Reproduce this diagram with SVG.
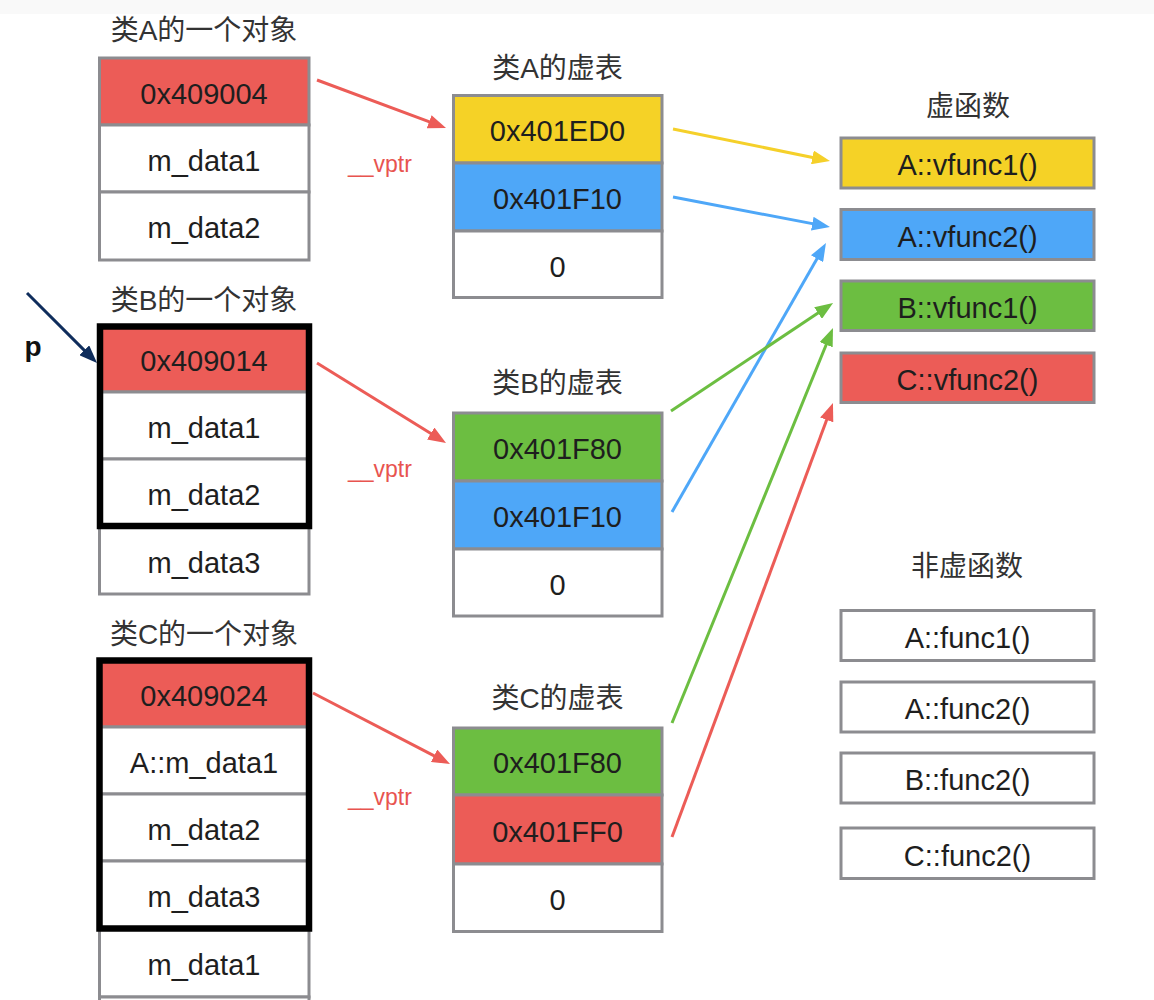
<svg xmlns="http://www.w3.org/2000/svg" width="1154" height="1000" viewBox="0 0 1154 1000">
<style>
text{font-family:"Liberation Sans","Noto Sans CJK SC",sans-serif;text-anchor:middle;fill:#1e1e1e}
.cell{font-size:29px}
.title{font-size:28px;fill:#333}
.vp{font-size:23px;fill:#e8544f;text-anchor:start}
.c{stroke:#8c8c90;stroke-width:3}
.w{fill:#fff}
.r{fill:#ec5c57}
.y{fill:#f5d226}
.b{fill:#4ea7f8}
.g{fill:#6cbe41}
.blk{fill:none;stroke:#000;stroke-width:6.5}
.ln{fill:none;stroke-width:3}
</style>
<defs>
<marker id="mr" viewBox="0 0 18 14" refX="4" refY="7" markerWidth="18" markerHeight="14" markerUnits="userSpaceOnUse" orient="auto"><path d="M0,0 L18,7 L0,14 z" fill="#ec5c57"/></marker>
<marker id="my" viewBox="0 0 18 14" refX="4" refY="7" markerWidth="18" markerHeight="14" markerUnits="userSpaceOnUse" orient="auto"><path d="M0,0 L18,7 L0,14 z" fill="#f5d02a"/></marker>
<marker id="mb" viewBox="0 0 18 14" refX="4" refY="7" markerWidth="18" markerHeight="14" markerUnits="userSpaceOnUse" orient="auto"><path d="M0,0 L18,7 L0,14 z" fill="#4ea7f8"/></marker>
<marker id="mg" viewBox="0 0 18 14" refX="4" refY="7" markerWidth="18" markerHeight="14" markerUnits="userSpaceOnUse" orient="auto"><path d="M0,0 L18,7 L0,14 z" fill="#6cbe41"/></marker>
<marker id="mn" viewBox="0 0 18 14" refX="4" refY="7" markerWidth="18" markerHeight="14" markerUnits="userSpaceOnUse" orient="auto"><path d="M0,0 L18,7 L0,14 z" fill="#0f2d5c"/></marker>
</defs>
<rect x="0" y="0" width="1154" height="1000" fill="#fff"/>
<rect x="0" y="0" width="1154" height="14" fill="#f9f9f9"/>

<g id="objA">
<text class="title" x="204" y="40">类A的一个对象</text>
<rect class="c r" x="99.5" y="58" width="209.5" height="67"/>
<rect class="c w" x="99.5" y="125" width="209.5" height="67"/>
<rect class="c w" x="99.5" y="192" width="209.5" height="68"/>
<text class="cell" x="204" y="103.5">0x409004</text>
<text class="cell" x="204" y="170.5">m_data1</text>
<text class="cell" x="204" y="238">m_data2</text>
</g>

<g id="objB">
<text class="title" x="204" y="310">类B的一个对象</text>
<rect class="c r" x="99.5" y="326" width="209.5" height="66"/>
<rect class="c w" x="99.5" y="392" width="209.5" height="67"/>
<rect class="c w" x="99.5" y="459" width="209.5" height="68"/>
<rect class="c w" x="99.5" y="527" width="209.5" height="67"/>
<rect class="blk" x="100" y="326.5" width="209" height="199.5"/>
<text class="cell" x="204" y="370.5">0x409014</text>
<text class="cell" x="204" y="437.5">m_data1</text>
<text class="cell" x="204" y="505">m_data2</text>
<text class="cell" x="204" y="572.5">m_data3</text>
</g>

<g id="objC">
<text class="title" x="204" y="644">类C的一个对象</text>
<rect class="c r" x="99.5" y="660" width="209.5" height="67"/>
<rect class="c w" x="99.5" y="727" width="209.5" height="67"/>
<rect class="c w" x="99.5" y="794" width="209.5" height="67"/>
<rect class="c w" x="99.5" y="861" width="209.5" height="68"/>
<rect class="c w" x="99.5" y="929" width="209.5" height="68"/>
<rect class="c w" x="99.5" y="997" width="209.5" height="40"/>
<rect class="blk" x="99.5" y="660.5" width="209.5" height="268"/>
<text class="cell" x="204" y="705.5">0x409024</text>
<text class="cell" x="204" y="772.5">A::m_data1</text>
<text class="cell" x="204" y="839.5">m_data2</text>
<text class="cell" x="204" y="907">m_data3</text>
<text class="cell" x="204" y="975">m_data1</text>
</g>

<g id="vtblA">
<text class="title" x="557.5" y="78">类A的虚表</text>
<rect class="c y" x="453.5" y="95.5" width="208.5" height="67.5"/>
<rect class="c b" x="453.5" y="163" width="208.5" height="68"/>
<rect class="c w" x="453.5" y="231" width="208.5" height="66.5"/>
<text class="cell" x="557.5" y="141">0x401ED0</text>
<text class="cell" x="557.5" y="209">0x401F10</text>
<text class="cell" x="557.5" y="276.5">0</text>
</g>

<g id="vtblB">
<text class="title" x="557.5" y="393">类B的虚表</text>
<rect class="c g" x="453.5" y="413" width="208.5" height="68"/>
<rect class="c b" x="453.5" y="481" width="208.5" height="68"/>
<rect class="c w" x="453.5" y="549" width="208.5" height="67"/>
<text class="cell" x="557.5" y="458.5">0x401F80</text>
<text class="cell" x="557.5" y="527">0x401F10</text>
<text class="cell" x="557.5" y="595">0</text>
</g>

<g id="vtblC">
<text class="title" x="557.5" y="708">类C的虚表</text>
<rect class="c g" x="453.5" y="728" width="208.5" height="67"/>
<rect class="c r" x="453.5" y="795" width="208.5" height="69"/>
<rect class="c w" x="453.5" y="864" width="208.5" height="67.5"/>
<text class="cell" x="557.5" y="773">0x401F80</text>
<text class="cell" x="557.5" y="841.5">0x401FF0</text>
<text class="cell" x="557.5" y="910">0</text>
</g>

<g id="vfuncs">
<text class="title" x="968" y="116">虚函数</text>
<rect class="c y" x="841" y="138" width="253" height="50"/>
<rect class="c b" x="841" y="209.5" width="253" height="50"/>
<rect class="c g" x="841" y="281" width="253" height="49.5"/>
<rect class="c r" x="841" y="353" width="253" height="49.5"/>
<text class="cell" x="967.5" y="175">A::vfunc1()</text>
<text class="cell" x="967.5" y="246.5">A::vfunc2()</text>
<text class="cell" x="967.5" y="318">B::vfunc1()</text>
<text class="cell" x="967.5" y="390">C::vfunc2()</text>
</g>

<g id="funcs">
<text class="title" x="967" y="576">非虚函数</text>
<rect class="c w" x="841" y="610.5" width="253" height="50"/>
<rect class="c w" x="841" y="682" width="253" height="50"/>
<rect class="c w" x="841" y="753" width="253" height="50"/>
<rect class="c w" x="841" y="828" width="253" height="50.5"/>
<text class="cell" x="967.5" y="647.5">A::func1()</text>
<text class="cell" x="967.5" y="719">A::func2()</text>
<text class="cell" x="967.5" y="790">B::func2()</text>
<text class="cell" x="967.5" y="865.5">C::func2()</text>
</g>

<g id="labels">
<text class="vp" x="348" y="172">__vptr</text>
<text class="vp" x="348" y="477">__vptr</text>
<text class="vp" x="348" y="805">__vptr</text>
<text x="33" y="356" style="font-size:28px;font-weight:bold;fill:#111">p</text>
</g>

<g id="connectors">
<line class="ln" stroke="#ec5c57" x1="317" y1="80" x2="432.9" y2="123.1" marker-end="url(#mr)"/>
<line class="ln" stroke="#ec5c57" x1="317" y1="363" x2="434.1" y2="435.6" marker-end="url(#mr)"/>
<line class="ln" stroke="#ec5c57" x1="313" y1="693" x2="437.6" y2="757.6" marker-end="url(#mr)"/>
<line class="ln" stroke="#f5d02a" x1="673" y1="129" x2="816.3" y2="158.2" marker-end="url(#my)"/>
<line class="ln" stroke="#4ea7f8" x1="673" y1="197" x2="816.2" y2="224.4" marker-end="url(#mb)"/>
<line class="ln" stroke="#4ea7f8" x1="672" y1="512" x2="819" y2="255.2" marker-end="url(#mb)"/>
<line class="ln" stroke="#6cbe41" x1="671" y1="411" x2="821.4" y2="310.8" marker-end="url(#mg)"/>
<line class="ln" stroke="#6cbe41" x1="672" y1="723" x2="827.7" y2="341" marker-end="url(#mg)"/>
<line class="ln" stroke="#ec5c57" x1="672" y1="837" x2="828.1" y2="416.1" marker-end="url(#mr)"/>
<line class="ln" stroke="#0f2d5c" x1="27" y1="293" x2="87.1" y2="353.1" marker-end="url(#mn)"/>
</g>
</svg>
